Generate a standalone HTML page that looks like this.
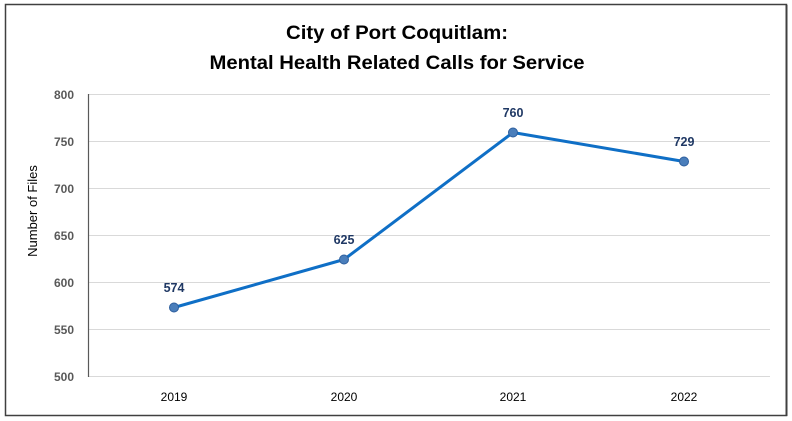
<!DOCTYPE html>
<html><head><style>body{margin:0;background:#fff}svg{display:block}</style></head>
<body>
<svg width="792" height="421" viewBox="0 0 792 421" xmlns="http://www.w3.org/2000/svg" font-family="Liberation Sans, sans-serif">
<rect x="0" y="0" width="792" height="421" fill="#fff"/>
<rect x="5.5" y="4.5" width="781" height="411" fill="none" stroke="#404040" stroke-width="1.5"/>
<line x1="786.5" y1="5" x2="786.5" y2="416" stroke="#404040" stroke-width="2"/>
<text x="397" y="39" text-anchor="middle" font-size="19" font-weight="bold" fill="#000" textLength="222" lengthAdjust="spacingAndGlyphs">City of Port Coquitlam:</text>
<text x="397" y="69" text-anchor="middle" font-size="19" font-weight="bold" fill="#000" textLength="375" lengthAdjust="spacingAndGlyphs">Mental Health Related Calls for Service</text>
<g stroke="#d9d9d9" stroke-width="1">
<line x1="88" y1="94.5" x2="770" y2="94.5"/>
<line x1="88" y1="141.5" x2="770" y2="141.5"/>
<line x1="88" y1="188.5" x2="770" y2="188.5"/>
<line x1="88" y1="235.5" x2="770" y2="235.5"/>
<line x1="88" y1="282.5" x2="770" y2="282.5"/>
<line x1="88" y1="329.5" x2="770" y2="329.5"/>
<line x1="88" y1="376.5" x2="770" y2="376.5"/>
</g>
<line x1="88.5" y1="94" x2="88.5" y2="377" stroke="#595959" stroke-width="1.2"/>
<g font-size="12" font-weight="bold" fill="#595959" text-anchor="end">
<text x="74" y="99">800</text><text x="74" y="146">750</text><text x="74" y="193">700</text>
<text x="74" y="240">650</text><text x="74" y="287">600</text><text x="74" y="334">550</text><text x="74" y="381">500</text>
</g>
<text transform="translate(37,211) rotate(-90)" text-anchor="middle" font-size="13" fill="#000">Number of Files</text>
<g font-size="12" fill="#000" text-anchor="middle">
<text x="174" y="401">2019</text><text x="344" y="401">2020</text><text x="513" y="401">2021</text><text x="684" y="401">2022</text>
</g>
<polyline points="174,307.5 344,259.5 513,132.5 684,161.5" fill="none" stroke="#0f6fc6" stroke-width="3" stroke-linejoin="round"/>
<g fill="#4a7ebb" stroke="#2e5f9e" stroke-width="1">
<circle cx="174" cy="307.5" r="4.5"/><circle cx="344" cy="259.5" r="4.5"/><circle cx="513" cy="132.5" r="4.5"/><circle cx="684" cy="161.5" r="4.5"/>
</g>
<g font-size="12.5" font-weight="bold" fill="#1f3864" text-anchor="middle">
<text x="174" y="292">574</text><text x="344" y="244">625</text><text x="513" y="117">760</text><text x="684" y="146">729</text>
</g>
</svg>
</body></html>
